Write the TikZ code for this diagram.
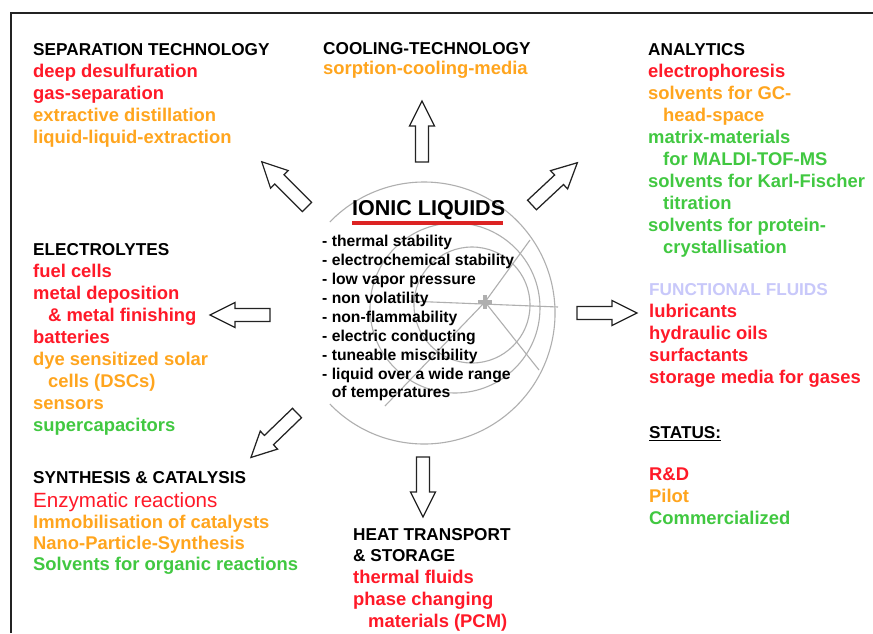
\documentclass[tikz,border=0pt]{standalone}
\usepackage{fontspec}
\setmainfont{Liberation Sans}
\definecolor{cred}{RGB}{255,25,40}
\definecolor{corange}{RGB}{255,165,30}
\definecolor{cgreen}{RGB}{65,200,65}
\definecolor{clav}{RGB}{200,200,250}
\definecolor{cline}{RGB}{35,35,35}
\definecolor{logogray}{RGB}{175,175,175}
\definecolor{ulred}{RGB}{220,35,35}
\newcommand\hd{\color{black}\fontsize{17.2}{22}\selectfont}
\newcommand\rd{\color{cred}}
\newcommand\og{\color{corange}}
\newcommand\gn{\color{cgreen}}
\newcommand\ind{\hspace*{15pt}}
\newcommand\fst{\rule{0pt}{15pt}}
\tikzset{
  blk/.style={anchor=north west, inner sep=0pt, align=left,
    font=\fontsize{18.4}{22}\selectfont\bfseries},
  barrow/.style={draw=cline, fill=white, line width=1.25pt, line join=miter},
  logo/.style={draw=logogray, line width=1.1pt},
  frame/.style={draw=cline, line width=1.1pt}
}
\newcommand\barr[3]{%
  \begin{scope}[shift={(#1)}, rotate=#2]
    \draw[barrow] (0,-6.5) -- (#3-25,-6.5) -- (#3-25,-12.5) -- (#3,0)
      -- (#3-25,12.5) -- (#3-25,6.5) -- (0,6.5) -- cycle;
  \end{scope}}
\begin{document}
\begin{tikzpicture}[x=1pt,y=-1pt]
\fill[white] (0,0) rectangle (873,633);
\useasboundingbox (0,0) rectangle (873,633);
% frame
\draw[frame] (11,633) -- (11,13) -- (873,13);
% logo
\draw[logo] (329.8,404) arc[start angle=136, end angle=-136, radius=131];
\draw[logo] (455,308) circle[radius=85];
\draw[logo] (472,305) circle[radius=58];
\draw[logo] (407,301) -- (558,307);
\draw[logo] (485,302) -- (530,240);
\draw[logo] (485,302) -- (539,370);
\draw[logo] (485,302) -- (385,406);
\draw[logogray, line width=3.5pt] (478,302) -- (492,302) (485,295) -- (485,309);
% arrows
\barr{422,162}{90}{61}
\barr{270,315}{180}{60}
\barr{577,313}{0}{60}
\barr{423,457}{270}{60}
\barr{307,207}{135}{64}
\barr{532,205}{43}{62}
\barr{297,413}{224}{64}
% centre
\node[anchor=base west, inner sep=0pt, font=\fontsize{21.5}{24}\selectfont\bfseries] (title) at (352,215) {IONIC LIQUIDS};
\fill[ulred] (352,220.5) rectangle (503,224.5);
\node[blk, font=\fontsize{15.7}{18.9}\selectfont\bfseries] (props) at (322,231.5)
 {\fst- thermal stability\\
  - electrochemical stability\\
  - low vapor pressure\\
  - non volatility\\
  - non-flammability\\
  - electric conducting\\
  - tuneable miscibility\\
  - liquid over a wide range\\
  \hphantom{- }of temperatures};
% blocks
\node[blk] (sep) at (33,40)
 {\fst\hd SEPARATION TECHNOLOGY\\
  \rd deep desulfuration\\
  \rd gas-separation\\
  \og extractive distillation\\
  \og liquid-liquid-extraction};
\node[blk] (cool) at (323,39)
 {\fst\hd COOLING-TECHNOLOGY\\[-2pt]
  \og sorption-cooling-media};
\node[blk] (ana) at (648,40)
 {\fst\hd ANALYTICS\\
  \rd electrophoresis\\
  \og solvents for GC-\\
  \og\ind head-space\\
  \gn matrix-materials\\
  \gn\ind for MALDI-TOF-MS\\
  \gn solvents for Karl-Fischer\\
  \gn\ind titration\\
  \gn solvents for protein-\\
  \gn\ind crystallisation};
\node[blk] (elec) at (33,240)
 {\fst\hd ELECTROLYTES\\
  \rd fuel cells\\
  \rd metal deposition\\
  \rd\ind \& metal finishing\\
  \rd batteries\\
  \og dye sensitized solar\\
  \og\ind cells (DSCs)\\
  \og sensors\\
  \gn supercapacitors};
\node[blk] (func) at (649,280)
 {\fst\color{clav}\fontsize{17.2}{22}\selectfont FUNCTIONAL FLUIDS\\
  \rd lubricants\\
  \rd hydraulic oils\\
  \rd surfactants\\
  \rd storage media for gases};
\node[blk] (status) at (649,423)
 {\fst\hd\underline{STATUS:}\\[20pt]
  \rd R\&D\\
  \og Pilot\\
  \gn Commercialized};
\node[blk] (syn) at (33,468)
 {\fst\hd SYNTHESIS \& CATALYSIS\\[2pt]
  \rd\mdseries\fontsize{20.6}{22}\selectfont Enzymatic reactions\\[-1pt]
  \og Immobilisation of catalysts\\[-1pt]
  \og Nano-Particle-Synthesis\\[-1pt]
  \gn Solvents for organic reactions};
\node[blk] (heat) at (353,525)
 {\fst\hd HEAT TRANSPORT\\[-1pt]
  \hd \& STORAGE\\
  \rd thermal fluids\\
  \rd phase changing\\
  \rd\ind materials (PCM)};
\end{tikzpicture}
\end{document}
